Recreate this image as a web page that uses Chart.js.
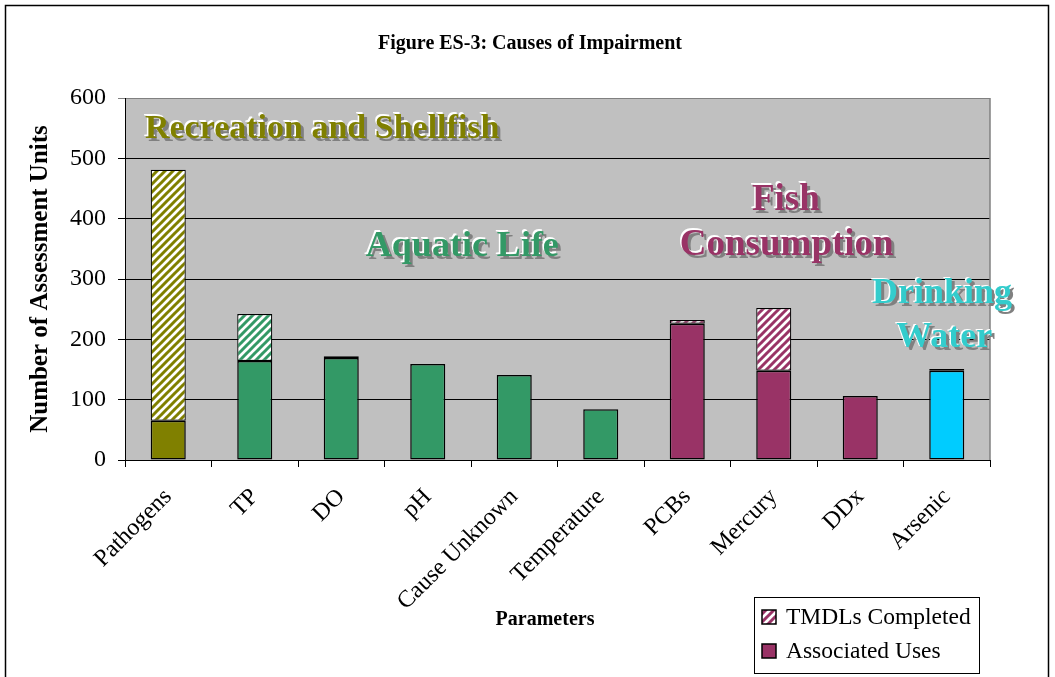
<!DOCTYPE html>
<html>
<head>
<meta charset="utf-8">
<script src="https://cdn.jsdelivr.net/npm/chart.js@4.4.0/dist/chart.umd.min.js"></script>
<style>
  html, body { margin: 0; padding: 0; background: #fff; }
  #wrap { width: 1055px; height: 677px; position: relative; }
</style>
</head>
<body>
<div id="wrap"><canvas id="myChart"></canvas></div>
<script>
// data
const categories = ['Pathogens', 'TP', 'DO', 'pH', 'Cause Unknown', 'Temperature', 'PCBs', 'Mercury', 'DDx', 'Arsenic'];
const associatedUses = [65, 164, 169, 159, 141, 84, 226, 148, 106, 148];
const tmdlsCompleted = [416, 78, 3, 0, 0, 0, 6, 104, 0, 3];
const yTicks = [0, 100, 200, 300, 400, 500, 600];
const useGroups = [['Recreation and Shellfish'], ['Aquatic Life'], ['Fish', 'Consumption'], ['Drinking', 'Water']];

const barColors = ['#808000', '#339966', '#339966', '#339966', '#339966', '#339966', '#993366', '#993366', '#993366', '#00CCFF'];
const groupColors = ['#808000', '#339966', '#993366', '#33CCCC'];
const groupFontSize = [34, 36, 37, 36];
const SERIF = '"Liberation Serif", "Times New Roman", serif';

// white / colour diagonal stripes
function stripes(color) {
    const c = document.createElement('canvas');
    c.width = 8; c.height = 8;
    const g = c.getContext('2d');
    g.fillStyle = '#fff';
    g.fillRect(0, 0, 8, 8);
    g.strokeStyle = color;
    g.lineWidth = 3;
    g.beginPath();
    for (let k = 0; k <= 2; k++) {
        g.moveTo(8 * k + 1, -1);
        g.lineTo(8 * k - 9, 9);
    }
    g.stroke();
    return g.createPattern(c, 'repeat');
}

// where the use-group labels sit, in axis units (category index, y value)
const groupPlaces = [
    [[1.78, 549]],
    [[3.40, 354]],
    [[7.14, 431], [7.15, 356]],
    [[8.945, 275], [8.97, 202]]
];

const decorPlugin = {
    id: 'decor',
    beforeDraw(chart) {
        const { ctx, chartArea: a } = chart;
        ctx.save();
        ctx.fillStyle = '#fff';
        ctx.fillRect(0, 0, chart.width, chart.height);
        ctx.strokeStyle = '#000';
        ctx.lineWidth = 1.5;
        ctx.strokeRect(5.5, 5.5, 1043, 700);
        ctx.fillStyle = '#C0C0C0';
        ctx.fillRect(a.left, a.top, a.right - a.left, a.bottom - a.top);
        // chart title and x axis title
        ctx.fillStyle = '#000';
        ctx.textAlign = 'center';
        ctx.textBaseline = 'middle';
        ctx.font = 'bold 20px ' + SERIF;
        ctx.fillText('Figure ES-3: Causes of Impairment', 530, 44);
        ctx.font = 'bold 20px ' + SERIF;
        ctx.fillText('Parameters', 545, 620);
        ctx.restore();
    },
    afterDatasetsDraw(chart) {
        const { ctx, chartArea: a, scales } = chart;
        ctx.save();
        ctx.strokeStyle = '#808080';
        ctx.lineWidth = 1.5;
        ctx.beginPath();
        ctx.moveTo(a.right, a.top);
        ctx.lineTo(a.right, a.bottom);
        ctx.stroke();

        ctx.textAlign = 'center';
        ctx.textBaseline = 'middle';
        useGroups.forEach((lines, gi) => {
            ctx.font = 'bold ' + groupFontSize[gi] + 'px ' + SERIF;
            lines.forEach((txt, li) => {
                const [xi, yv] = groupPlaces[gi][li];
                const x = scales.x.getPixelForValue(xi);
                const y = scales.y.getPixelForValue(yv);
                ctx.fillStyle = '#808080';
                ctx.fillText(txt, x + 3, y + 3);
                ctx.fillStyle = '#fff';
                ctx.fillText(txt, x - 1.5, y - 1.5);
                ctx.fillStyle = groupColors[gi];
                ctx.fillText(txt, x, y);
            });
        });
        ctx.restore();
    },
    afterDraw(chart) {
        const { ctx } = chart;
        const bx = 754, by = 597, bw = 225, bh = 76;
        ctx.save();
        ctx.fillStyle = '#fff';
        ctx.fillRect(bx, by, bw, bh);
        ctx.strokeStyle = '#000';
        ctx.lineWidth = 1;
        ctx.strokeRect(bx + 0.5, by + 0.5, bw, bh);
        const swatches = [stripes('#993366'), '#993366'];
        chart.data.datasets.slice().reverse().forEach((ds, i) => {
            const cy = by + 20 + i * 34;
            ctx.fillStyle = swatches[i];
            ctx.fillRect(762, cy - 7, 14, 14);
            ctx.strokeStyle = '#000';
            ctx.lineWidth = 1.5;
            ctx.strokeRect(762, cy - 7, 14, 14);
            ctx.fillStyle = '#000';
            ctx.font = '23.5px ' + SERIF;
            ctx.textAlign = 'left';
            ctx.textBaseline = 'middle';
            ctx.fillText(ds.label, 786, cy + 1);
        });
        ctx.restore();
    }
};

const ctx = document.getElementById('myChart').getContext('2d');
new Chart(ctx, {
    type: 'bar',
    data: {
        labels: categories,
        datasets: [{
            label: 'Associated Uses',
            data: associatedUses,
            backgroundColor: barColors,
            borderColor: '#000',
            borderWidth: 1.5,
            borderSkipped: false,
            barPercentage: 0.405,
            categoryPercentage: 1
        }, {
            label: 'TMDLs Completed',
            data: tmdlsCompleted,
            backgroundColor: barColors.map(c => stripes(c)),
            borderColor: '#000',
            borderWidth: 1.2,
            borderSkipped: false,
            barPercentage: 0.405,
            categoryPercentage: 1
        }]
    },
    options: {
        responsive: true,
        maintainAspectRatio: false,
        animation: false,
        layout: { padding: { left: 20, right: 65, top: 98, bottom: 0 } },
        scales: {
            x: {
                stacked: true,
                offset: true,
                afterFit: s => { s.height = 217; },
                grid: { offset: true, drawOnChartArea: false, drawTicks: true, tickLength: 7, color: '#000' },
                border: { color: '#000', width: 1 },
                ticks: {
                    color: '#000',
                    font: { family: SERIF, size: 24 },
                    minRotation: 45,
                    maxRotation: 45,
                    autoSkip: false,
                    padding: 16
                }
            },
            y: {
                stacked: true,
                min: 0,
                max: 600,
                afterFit: s => { s.width = 105; },
                afterBuildTicks: s => { s.ticks = yTicks.map(v => ({ value: v })); },
                grid: {
                    color: c => (c.tick && c.tick.value === 600 ? '#808080' : '#000'),
                    lineWidth: 1,
                    tickLength: 7
                },
                border: { color: '#000', width: 1 },
                ticks: {
                    color: '#000',
                    font: { family: SERIF, size: 24 },
                    padding: 12
                },
                title: {
                    display: true,
                    text: 'Number of Assessment Units',
                    color: '#000',
                    font: { family: SERIF, size: 25, weight: 'bold' },
                    padding: { top: 6, bottom: 0 }
                }
            }
        },
        plugins: {
            legend: { display: false },
            tooltip: { enabled: false },
            title: { display: false }
        }
    },
    plugins: [decorPlugin]
});
</script>
</body>
</html>
